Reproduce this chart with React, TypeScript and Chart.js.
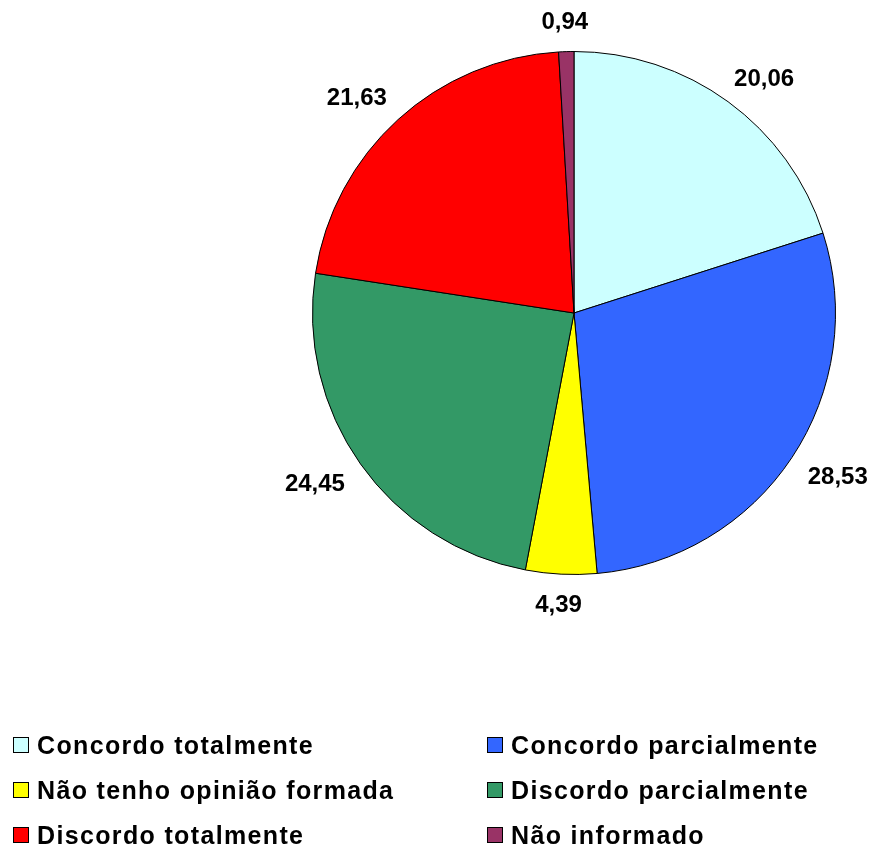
import React, { useEffect, useRef } from "react";
import { Chart, registerables } from "chart.js";

Chart.register(...registerables);

const categories = [
  "Concordo totalmente",
  "Concordo parcialmente",
  "Não tenho opinião formada",
  "Discordo parcialmente",
  "Discordo totalmente",
  "Não informado",
];
const values = [20.06, 28.53, 4.39, 24.45, 21.63, 0.94];
const valueLabels = ["20,06", "28,53", "4,39", "24,45", "21,63", "0,94"];
const colors = ["#CCFFFF", "#3366FF", "#FFFF00", "#339966", "#FF0000", "#993366"];

const FONT = '"Liberation Sans", Arial, sans-serif';

const labelPlugin = {
  id: "outerLabels",
  afterDatasetsDraw(chart: any) {
    const ctx = chart.ctx;
    const meta = chart.getDatasetMeta(0);
    ctx.save();
    ctx.font = `bold 24px ${FONT}`;
    ctx.fillStyle = "#000";
    ctx.textAlign = "center";
    ctx.textBaseline = "middle";
    meta.data.forEach((arc: any, i: number) => {
      const p = arc.getProps(["x", "y", "startAngle", "endAngle", "outerRadius"], true);
      const mid = (p.startAngle + p.endAngle) / 2;
      const text = valueLabels[i];
      const w = ctx.measureText(text).width;
      const c = Math.cos(mid);
      const s = Math.sin(mid);
      const base = p.outerRadius + 19;
      const ex = Math.sign(c) * (w / 2) * Math.min(1, Math.abs(c) * 1.4);
      const ey = Math.sign(s) * (Math.abs(s) > 0.9 ? 11 : 8);
      ctx.fillText(text, p.x + c * base + ex, p.y + s * base + ey + 1);
    });
    ctx.restore();
  },
};

export default function App() {
  const ref = useRef<HTMLCanvasElement | null>(null);
  useEffect(() => {
    if (!ref.current) return;
    const chart = new Chart(ref.current, {
      type: "pie",
      data: {
        labels: categories,
        datasets: [
          {
            data: values,
            backgroundColor: colors,
            borderColor: "#000",
            borderWidth: 1,
          },
        ],
      },
      options: {
        responsive: false,
        animation: false,
        layout: { padding: { left: 312, right: 38, top: 51, bottom: 272 } },
        plugins: {
          legend: { display: false },
          tooltip: { enabled: false },
        },
      },
      plugins: [labelPlugin],
    });
    return () => chart.destroy();
  }, []);

  const legendRows = [
    [0, 1],
    [2, 3],
    [4, 5],
  ];
  const colX = [13, 487];
  const rowY = [745, 790, 835];

  return (
    <div style={{ position: "fixed", left: 0, top: 0, width: 874, height: 847, background: "#fff" }}>
      <canvas ref={ref} width={874} height={847} style={{ position: "absolute", left: 0, top: 0 }} />
      {legendRows.map((row, ri) =>
        row.map((idx, ci) => (
          <div
            key={idx}
            style={{
              position: "absolute",
              left: colX[ci],
              top: rowY[ri] - 15,
              height: 30,
              display: "flex",
              alignItems: "center",
              whiteSpace: "nowrap",
            }}
          >
            <span
              style={{
                display: "inline-block",
                width: 14,
                height: 14,
                background: colors[idx],
                border: "1px solid #000",
                marginRight: 8,
              }}
            />
            <span
              style={{
                fontFamily: FONT,
                fontWeight: "bold",
                fontSize: 25,
                letterSpacing: 1.35,
                color: "#000",
                lineHeight: "30px",
              }}
            >
              {categories[idx]}
            </span>
          </div>
        ))
      )}
    </div>
  );
}
